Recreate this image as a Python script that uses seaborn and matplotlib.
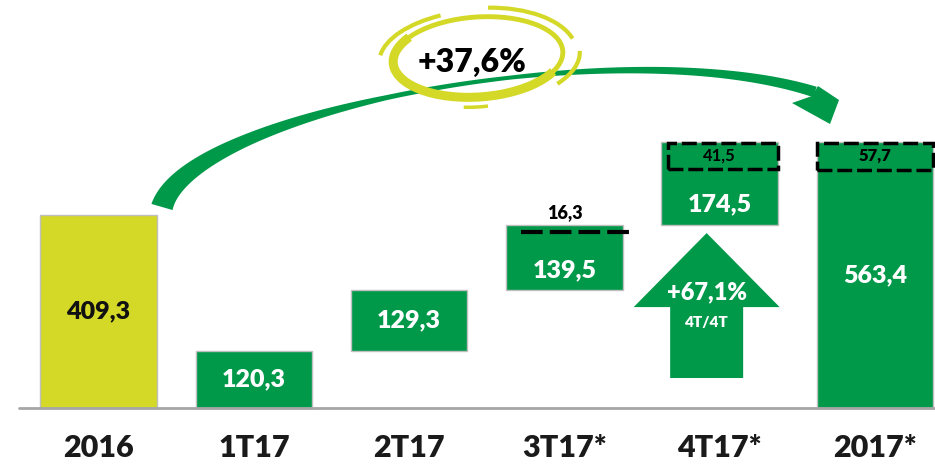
import numpy as np
import pandas as pd
import matplotlib
matplotlib.use("Agg")
import matplotlib.pyplot as plt
import seaborn as sns
from matplotlib.patches import Ellipse, Arc, Rectangle, FancyArrow

# data
cats = ['2016', '1T17', '2T17', '3T17*', '4T17*', '2017*']
values = [409.3, 120.3, 129.3, 139.5, 174.5, 563.4]
one_off_cats = ['3T17*', '4T17*', '2017*']
one_offs = [16.3, 41.5, 57.7]
growth_year = '+37,6%'
growth_q = '+67,1%'
growth_q_sub = '4T/4T'

green = '#00994A'
yellow = '#D4D826'

sns.set_theme(style="white")
plt.rcParams['font.family'] = ['Lato', 'DejaVu Sans']
W = 'heavy'

fig = plt.figure(figsize=(9.35, 4.65), dpi=100)
ax = fig.add_axes([0, 0, 1, 1])

# waterfall: quarters stack on top of each other, totals start at zero
quarters = values[1:5]
q_bottoms = np.concatenate([[0], np.cumsum(quarters)[:-1]])
bottoms = [0, *q_bottoms, 0]

df = pd.DataFrame({'cat': cats, 'val': values})
sns.barplot(data=df, x='cat', y='val', hue='cat', palette=[yellow] + [green] * 5,
            saturation=1, legend=False, width=0.75, edgecolor='#BFBFBF',
            linewidth=1, ax=ax)
for p, b in zip(ax.patches, bottoms):
    p.set_y(b)

px = 0.4715  # pixels per unit
ax.set_xlim(-98.5 / 155.3, (935 - 98.5) / 155.3)
ax.set_ylim(-57 / px, 408 / px)
ax.axis('off')

# baseline
ax.plot([-0.51, 5.5], [0, 0], color='#A6A6A6', lw=2, zorder=3)

# value labels
label_frac = [0.5, 0.5, 0.5, 0.3, 0.24, 0.5]
for i, (v, b) in enumerate(zip(values, bottoms)):
    ax.text(i, b + v * label_frac[i], f"{v:.1f}".replace('.', ','),
            ha='center', va='center', fontsize=18, fontweight=W,
            color='#111111' if i == 0 else 'white', zorder=5)

# category labels
for i, c in enumerate(cats):
    ax.text(i, -85, c, ha='center', va='center', fontsize=22,
            fontweight=W, color='#1A1A1A')

# one-off markers
tops = [b + v for b, v in zip(bottoms, values)]
i3 = cats.index('3T17*')
ax.plot([i3 - 0.28, i3 + 0.43], [tops[i3] - one_offs[0]] * 2, color='black',
        lw=3, linestyle=(0, (5.2, 1.7)), zorder=6)
ax.text(i3, tops[i3] + 25, f"{one_offs[0]:.1f}".replace('.', ','), ha='center',
        va='center', fontsize=13, fontweight=W, color='black', zorder=6)

for c, v, inset in zip(one_off_cats[1:], one_offs[1:], [0.04, 0.0]):
    i = cats.index(c)
    h = one_offs[-1]
    ax.add_patch(Rectangle((i - 0.375 + inset, tops[i] - h), 0.75 - inset, h - 2,
                           fill=False, ec='black', lw=2.5,
                           linestyle=(0, (4.3, 1.4)), zorder=6))
    ax.text(i, tops[i] - h / 2 + 1, f"{v:.1f}".replace('.', ','), ha='center',
            va='center', fontsize=12, fontweight='bold' if i == i3 + 1 else W,
            color='black', zorder=7)

# up arrow for quarter growth
i4 = cats.index('4T17*')
ax.add_patch(FancyArrow(i4 - 0.084, 63.6, 0, 371 - 63.6, width=0.47,
                        head_width=0.94, head_length=157,
                        length_includes_head=True, color=green, lw=0, zorder=4))
ax.text(i4 - 0.084, 246, growth_q, ha='center', va='center', fontsize=17,
        fontweight=W, color='white', zorder=5)
ax.text(i4 - 0.084, 182, growth_q_sub, ha='center', va='center', fontsize=11,
        fontweight=W, color='white', zorder=5)

# overlay in pixel space for the curved arrow and the yellow ring
ov = fig.add_axes([0, 0, 1, 1], label='overlay')
ov.set_xlim(0, 935)
ov.set_ylim(465, 0)
ov.axis('off')
ov.patch.set_alpha(0)

t = np.linspace(0, 1, 300)[:, None]
P0, P1, P2, P3 = [np.array(p, float) for p in [(162, 207), (190, 110), (620, 30), (815, 92)]]
B = (1 - t) ** 3 * P0 + 3 * (1 - t) ** 2 * t * P1 + 3 * (1 - t) * t ** 2 * P2 + t ** 3 * P3
dB = 3 * (1 - t) ** 2 * (P1 - P0) + 6 * (1 - t) * t * (P2 - P1) + 3 * t ** 2 * (P3 - P2)
n = np.column_stack([-dB[:, 1], dB[:, 0]])
n /= np.linalg.norm(n, axis=1)[:, None]
w = np.interp(t[:, 0], [0, 0.25, 0.45, 0.6, 0.85, 1], [22, 12, 5, 4, 8, 11])
up = B + n * w[:, None] / 2
lo = B - n * w[:, None] / 2
poly = np.vstack([up, lo[::-1]])
ov.fill(poly[:, 0], poly[:, 1], color=green, lw=0)
ov.fill([792, 812, 818, 839, 830], [103, 96, 86, 100, 124], color=green, lw=0)

ov.add_patch(Ellipse((478, 57), 170, 80, angle=-4, fill=False, ec=yellow, lw=3.5))
ov.add_patch(Arc((478, 57), 170, 80, angle=-4, theta1=15, theta2=200, ec=yellow, lw=6.5))
ov.add_patch(Arc((478, 57), 198, 94, angle=-4, theta1=185, theta2=232, ec=yellow, lw=3))
ov.add_patch(Arc((481, 58), 192, 100, angle=-4, theta1=282, theta2=352, ec=yellow, lw=3))
ov.add_patch(Arc((478, 58), 204, 96, angle=-4, theta1=0, theta2=22, ec=yellow, lw=3))
ov.add_patch(Arc((476, 58), 180, 98, angle=-4, theta1=80, theta2=108, ec=yellow, lw=2.5))
ov.text(472, 62, growth_year, ha='center', va='center', fontsize=23,
        fontweight=W, color='black')

plt.savefig('out.png', dpi=100)
